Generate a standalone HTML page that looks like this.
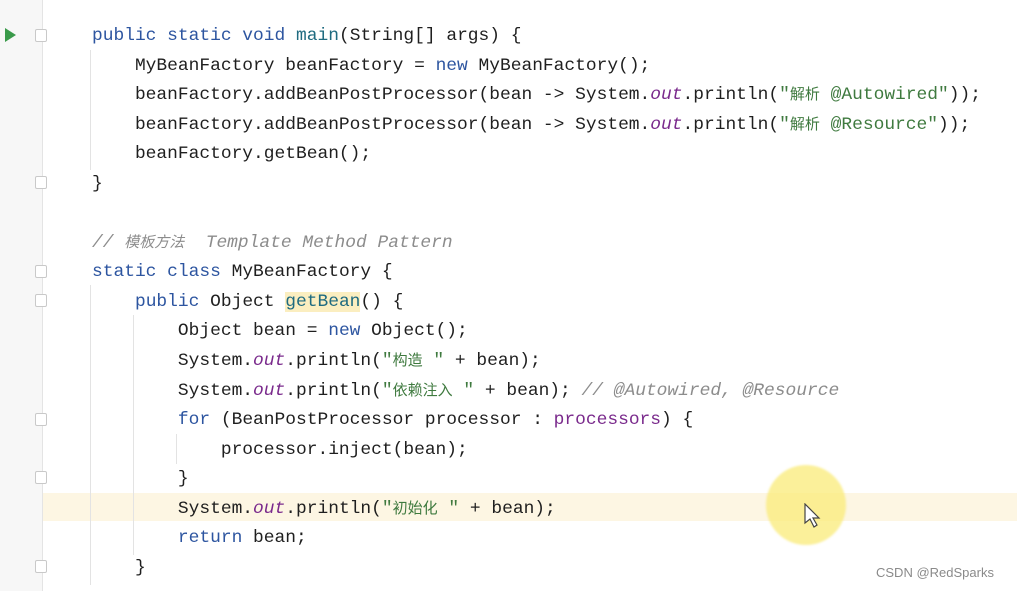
<!DOCTYPE html>
<html><head><meta charset="utf-8"><style>
body{margin:0;width:1017px;height:591px;background:#fff;position:relative;overflow:hidden;font-family:"Liberation Mono","Noto Sans CJK SC",monospace;}
.gut{position:absolute;left:0;top:0;width:42px;height:591px;background:#f7f7f7;border-right:1px solid #e4e4e4;}
.hl{position:absolute;left:43px;top:493px;width:974px;height:28px;background:#fdf6e3;}
.code{position:absolute;left:92px;top:22px;font-size:17.9px;color:#1f1f1f;}
.code div{height:29.55px;line-height:29.55px;white-space:pre;overflow:visible}
.k{color:#2d55a0}.m{color:#1f6b80}.p{color:#7a2a8c;font-style:italic}.pp{color:#7a2a8c}.s{color:#3f7a3f}.c{color:#8c8c8c;font-style:italic}
.z{font-size:15px;line-height:0;font-family:"Noto Sans CJK SC",sans-serif}
.gb{background:#fbeec0}
.guide{position:absolute;width:1px;background:#e3e3e3}
.fold{position:absolute;left:35px;width:10px;height:11px;border:1px solid #c9c9c9;border-radius:2px;background:#fff}
.circ{position:absolute;left:766px;top:465px;width:80px;height:80px;border-radius:50%;background:rgba(250,235,120,.75);filter:blur(1px)}
.wm{position:absolute;left:876px;top:565px;font-family:"Liberation Sans",sans-serif;font-size:13px;color:#8a8a8a}
</style></head><body>
<div class="gut"></div>
<div class="hl"></div>
<div class="guide" style="left:90px;top:50px;height:120px"></div>
<div class="guide" style="left:90px;top:285px;height:300px"></div>
<div class="guide" style="left:133px;top:315px;height:240px"></div>
<div class="guide" style="left:176px;top:434px;height:30px"></div>
<svg style="position:absolute;left:4px;top:28px" width="12" height="14"><polygon points="1,0 12,7 1,14" fill="#3a9a4a"/></svg>
<div class="fold" style="top:29px"></div>
<div class="fold" style="top:176px"></div>
<div class="fold" style="top:265px"></div>
<div class="fold" style="top:294px"></div>
<div class="fold" style="top:413px"></div>
<div class="fold" style="top:471px"></div>
<div class="fold" style="top:560px"></div>
<div class="circ"></div>
<svg style="position:absolute;left:804px;top:503px" width="18" height="26"><polygon points="1,1 1,20 6,16 10,24 13,22 9,15 15,15" fill="#fff" stroke="#444" stroke-width="1.2"/></svg>
<div class="code">
<div><span class="k">public static void</span> <span class="m">main</span>(String[] args) {</div>
<div>    MyBeanFactory beanFactory = <span class="k">new</span> MyBeanFactory();</div>
<div>    beanFactory.addBeanPostProcessor(bean -> System.<span class="p">out</span>.println(<span class="s">"<span class="z">解析</span> @Autowired"</span>));</div>
<div>    beanFactory.addBeanPostProcessor(bean -> System.<span class="p">out</span>.println(<span class="s">"<span class="z">解析</span> @Resource"</span>));</div>
<div>    beanFactory.getBean();</div>
<div>}</div>
<div> </div>
<div><span class="c">// <span class="z">模板方法</span>  Template Method Pattern</span></div>
<div><span class="k">static class</span> MyBeanFactory {</div>
<div>    <span class="k">public</span> Object <span class="m gb">getBean</span>() {</div>
<div>        Object bean = <span class="k">new</span> Object();</div>
<div>        System.<span class="p">out</span>.println(<span class="s">"<span class="z">构造</span> "</span> + bean);</div>
<div>        System.<span class="p">out</span>.println(<span class="s">"<span class="z">依赖注入</span> "</span> + bean); <span class="c">// @Autowired, @Resource</span></div>
<div>        <span class="k">for</span> (BeanPostProcessor processor : <span class="pp">processors</span>) {</div>
<div>            processor.inject(bean);</div>
<div>        }</div>
<div>        System.<span class="p">out</span>.println(<span class="s">"<span class="z">初始化</span> "</span> + bean);</div>
<div>        <span class="k">return</span> bean;</div>
<div>    }</div>
</div>
<div class="wm">CSDN @RedSparks</div>
</body></html>
